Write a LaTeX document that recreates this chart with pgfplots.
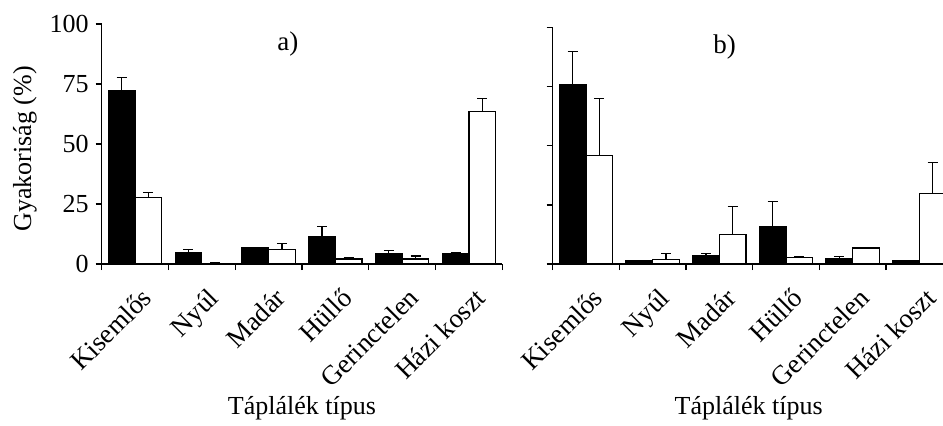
\documentclass[border=0pt]{standalone}
\usepackage{fontspec}
\setmainfont{Liberation Serif}
\usepackage{pgfplots}
\pgfplotsset{compat=1.18}
\pgfplotstableread{
x    y     e
-0.2 72.1  5.7
0.8  4.7   1.4
1.8  6.8   0.2
2.8  11.5  4.1
3.8  4.2   1.4
4.8  4.2   0.5
}\ablack
\pgfplotstableread{
x    y     e
0.2  27.8  1.9
1.2  0.1   0.4
2.2  6.1   2.6
3.2  2.1   0.6
4.2  2.1   1.2
5.2  63.6  5.4
}\awhite
\pgfplotstableread{
x    y     e
-0.2 75.6  14.1
0.8  1.3   0.1
1.8  3.4   1.2
2.8  15.6  10.9
3.8  2.1   1.1
4.8  1.3   0.1
}\bblack
\pgfplotstableread{
x    y     e
0.2  45.8  24.2
1.2  2.0   2.6
2.2  12.3  12.1
3.2  2.7   0.5
4.2  6.8   0.1
5.2  29.9  12.9
}\bwhite
\pgfplotsset{
  myaxis/.style={
    scale only axis,
    ymin=0, ymax=100,
    xmin=-0.5, xmax=5.5,
    axis x line*=bottom, axis y line*=left,
    axis line style={line width=0.7pt, -},
    ytick={0,25,50,75,100},
    xtick={-0.5,0.5,1.5,2.5,3.5,4.5,5.5},
    xticklabels={},
    tick align=outside,
    major tick length=3pt,
    tick style={line width=0.7pt, black},
    extra x ticks={0,1,2,3,4,5},
    extra x tick labels={Kisemlős,Nyúl,Madár,Hüllő,Gerinctelen,Házi koszt},
    extra x tick style={major tick length=0pt,
      xticklabel style={font=\fontsize{13.5}{15}\selectfont, xshift=2.5pt, yshift=-11pt, rotate=45, anchor=north east, inner sep=0pt}},
    ticklabel style={font=\fontsize{13}{15}\selectfont},
    label style={font=\fontsize{13}{15}\selectfont},
    /pgf/number format/assume math mode=true,
    ybar, bar width=0.4, bar shift=0pt,
    clip=false,
  },
  blackbar/.style={fill=black, draw=black, line width=0.6pt,
    error bars/.cd, y dir=plus, y explicit,
    error bar style={line width=0.6pt, black},
    error mark options={rotate=90, mark size=2.5pt, line width=0.6pt, black}},
  whitebar/.style={fill=white, draw=black, line width=0.6pt,
    error bars/.cd, y dir=plus, y explicit,
    error bar style={line width=0.6pt, black},
    error mark options={rotate=90, mark size=2.5pt, line width=0.6pt, black}},
}
\begin{document}
\begin{tikzpicture}
\useasboundingbox (0,0) rectangle (471.5pt,-212.5pt);
\clip (0,0) rectangle (471.5pt,-212.5pt);
\begin{axis}[myaxis,
  at={(50.85pt,-132pt)}, anchor=south west,
  width=200.3pt, height=120pt,
  ylabel={Gyakoriság (\%)},
  ylabel style={at={(axis description cs:-0.1915,0.48)}, anchor=center},
  xlabel={Táplálék típus},
  xlabel style={at={(axis description cs:0.5,-0.6)}, anchor=center},
]
\addplot[blackbar] table[x=x, y=y, y error=e] {\ablack};
\addplot[whitebar] table[x=x, y=y, y error=e] {\awhite};
\node[font=\fontsize{13.5}{15}\selectfont] at (axis description cs:0.465,0.917) {a)};
\end{axis}
\begin{axis}[myaxis,
  at={(276.35pt,-132pt)}, anchor=south west,
  width=200pt, height=118.35pt,
  yticklabels={},
  xlabel={Táplálék típus},
  xlabel style={at={(axis description cs:0.49,-0.608)}, anchor=center},
]
\addplot[blackbar] table[x=x, y=y, y error=e] {\bblack};
\addplot[whitebar] table[x=x, y=y, y error=e] {\bwhite};
\node[font=\fontsize{13.5}{15}\selectfont] at (axis description cs:0.43,0.917) {b)};
\end{axis}
\end{tikzpicture}
\end{document}
